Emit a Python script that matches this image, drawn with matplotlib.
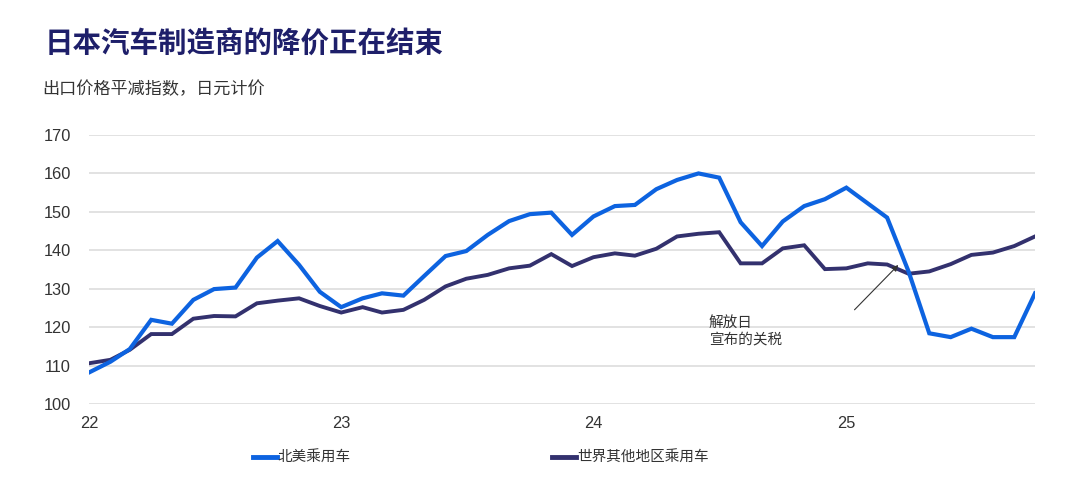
import matplotlib
matplotlib.use("Agg")
import matplotlib.pyplot as plt
import pandas as pd
from matplotlib.lines import Line2D

plt.rcParams['font.family'] = ['Noto Sans CJK SC', 'DejaVu Sans']

months = pd.date_range('2022-01-01', periods=46, freq='MS')

north_america = [108.2, 111.0, 114.3, 121.9, 120.9, 127.1, 129.9, 130.3, 138.1, 142.4,
                 136.2, 129.2, 125.2, 127.5, 128.8, 128.2, 133.3, 138.5, 139.8, 144.0,
                 147.6, 149.4, 149.8, 144.0, 148.8, 151.5, 151.8, 155.9, 158.3, 160.0,
                 158.9, 147.3, 141.1, 147.5, 151.5, 153.3, 156.3, 152.2, 148.5, 134.5,
                 118.4, 117.4, 119.6, 117.4, 117.4, 128.8]
rest_of_world = [110.6, 111.5, 114.1, 118.2, 118.2, 122.2, 122.9, 122.8, 126.2, 126.9,
                 127.5, 125.5, 123.8, 125.2, 123.8, 124.5, 127.1, 130.6, 132.6, 133.6,
                 135.3, 136.0, 139.0, 135.9, 138.2, 139.2, 138.6, 140.4, 143.6, 144.3,
                 144.7, 136.6, 136.6, 140.5, 141.3, 135.1, 135.3, 136.6, 136.3, 133.9,
                 134.5, 136.4, 138.8, 139.4, 141.1, 143.6]

series_names = ['北美乘用车', '世界其他地区乘用车']
yticks = [100, 110, 120, 130, 140, 150, 160, 170]
xtick_dates = pd.to_datetime(['2022-01-01', '2023-01-01', '2024-01-01', '2025-01-01'])
xtick_labels = ['22', '23', '24', '25']

title = '日本汽车制造商的降价正在结束'
subtitle = '出口价格平减指数，日元计价'
note = '解放日\n宣布的关税'

BLUE = '#0d63e0'
NAVY = '#33316e'

fig = plt.figure(figsize=(10.8, 4.84), dpi=100)
ax = fig.add_axes([89/1080, 1 - 404/484, (1035-89)/1080, (404-135)/484])

ax.plot(months, north_america, color=BLUE, lw=3.0, solid_joinstyle='miter', zorder=3)
ax.plot(months, rest_of_world, color=NAVY, lw=2.8, solid_joinstyle='miter', zorder=2)

ax.set_xlim(months[0], months[-1])
ax.set_ylim(100, 170)
ax.set_yticks(yticks)
ax.set_xticks(xtick_dates)
ax.set_xticklabels(xtick_labels)
ax.grid(axis='y', color='#dddddd', lw=1.2)
ax.set_axisbelow(True)
for s in ax.spines.values():
    s.set_visible(False)
ax.tick_params(axis='both', length=0, labelcolor='#333333', labelsize=11.8)
ax.tick_params(axis='y', pad=13)
ax.tick_params(axis='x', pad=9)
for lab in ax.get_xticklabels() + ax.get_yticklabels():
    lab.set_family(['Liberation Sans', 'DejaVu Sans'])

ax.annotate('', xy=(pd.Timestamp('2025-03-20'), 136.7),
            xytext=(pd.Timestamp('2025-01-10'), 124.0),
            arrowprops=dict(arrowstyle='-|>', color='#333333', lw=0.8, mutation_scale=9))
ax.text(pd.Timestamp('2024-06-16'), 123.0, note, fontsize=10.5, color='#333333',
        va='top', ha='left', linespacing=1.25)

fig.text(45/1080, 1 - 45/484, title, fontsize=20.5, fontweight='bold', color='#1e1f6a',
         va='center', ha='left')
fig.text(42/1080, 1 - 89/484, subtitle, fontsize=12.3, color='#333333',
         va='center', ha='left')

handles = [Line2D([], [], color=BLUE, lw=3.5), Line2D([], [], color=NAVY, lw=3.5)]
fig.legend(handles, series_names, loc='center left', bbox_to_anchor=(253/1080, 1 - 458/484),
           ncol=2, frameon=False, fontsize=10.5, handlelength=1.65, handletextpad=0.05,
           columnspacing=13.8, borderpad=0, borderaxespad=0, labelcolor='#333333')

fig.savefig('out.png', dpi=100, facecolor='white')
